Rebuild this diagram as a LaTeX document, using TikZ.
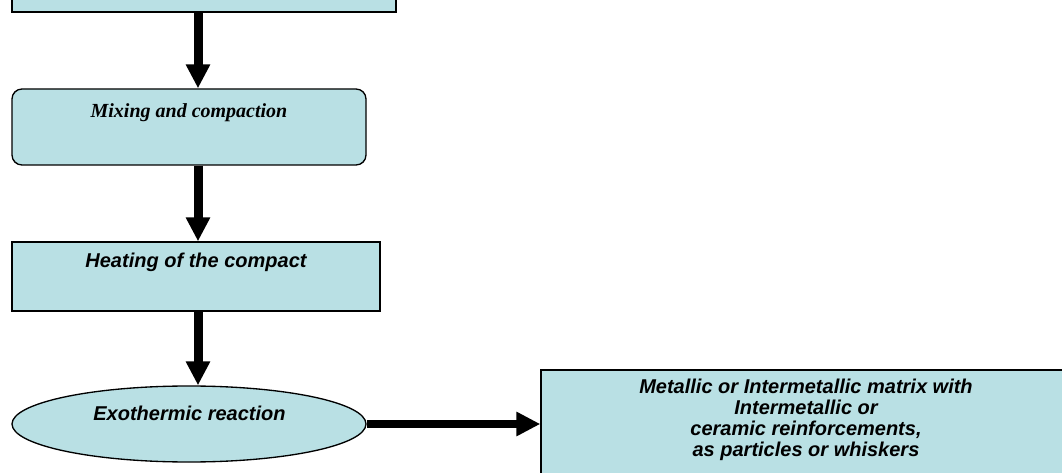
\documentclass[tikz,border=0pt]{standalone}
\usepackage{fontspec}
\setmainfont{Liberation Serif}
\newfontfamily\arialf{Liberation Sans}
\usetikzlibrary{arrows.meta,shapes.geometric}
\definecolor{boxfill}{RGB}{185,224,228}
\tikzset{
  box/.style={draw=black, line width=1pt, fill=boxfill, inner sep=0pt},
  flowarrow/.style={line width=6.75pt, -{Triangle[length=18pt,width=17.25pt]}},
  serifbi/.style={font=\fontsize{15}{15.6}\selectfont\bfseries\itshape},
  sansbi/.style={font=\arialf\fontsize{15}{15.6}\selectfont\bfseries\itshape},
}
\begin{document}
\begin{tikzpicture}[x=0.75pt,y=-0.75pt]
\clip (0,0) rectangle (1062,473);
\fill[white] (0,0) rectangle (1062,473);
\coordinate (ax) at (198,0);
% top box (cut off)
\node[box, minimum width=288pt, minimum height=46.5pt] (top) at (204,-19) {};
% mixing
\node[box, rounded corners=7.5pt, minimum width=265.5pt, text height=21.75pt, text depth=35.25pt, serifbi] (mix) at (189,127) {Mixing and compaction};
% heating
\node[box, minimum width=276pt, text height=19.5pt, text depth=32.25pt, sansbi] (heat) at (196,276.5) {Heating of the compact};
% ellipse
\node[box, ellipse, minimum width=265.5pt, minimum height=57pt] (exo) at (189,424) {};
\node[sansbi, anchor=base, inner sep=0pt] (exotext) at (189.5,420) {Exothermic reaction};
% result box
\node[box, minimum width=400.5pt, minimum height=97.5pt] (res) at (808,435) {};
\node[sansbi, align=center, anchor=north, inner sep=0pt] (restext) at (806,379) {Metallic or Intermetallic matrix with\\Intermetallic or\\ceramic reinforcements,\\as particles or whiskers};
% arrows
\draw[flowarrow] (top.south -| ax) -- (mix.north -| ax);
\draw[flowarrow] (mix.south -| ax) -- (heat.north -| ax);
\draw[flowarrow] (heat.south -| ax) -- (exo.north -| ax);
\draw[flowarrow, line width=6pt] (exo.east) -- (res.west |- exo.east);
\end{tikzpicture}
\end{document}
